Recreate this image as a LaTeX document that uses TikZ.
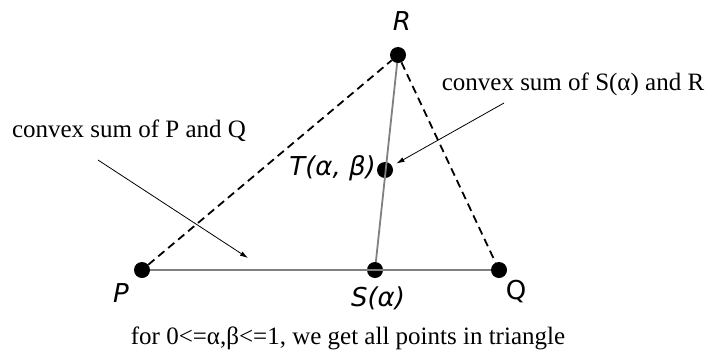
\documentclass[tikz,border=0pt]{standalone}
\usepackage{fontspec}
\setmainfont{Liberation Serif}
\newfontfamily\lblfont{DejaVu Sans}
\usetikzlibrary{arrows.meta}
\tikzset{
  pt/.style={circle,fill=black,minimum size=16pt,inner sep=0pt},
  lbl/.style={font=\lblfont\fontsize{26}{28}\selectfont\itshape,inner sep=0pt},
  txt/.style={font=\fontsize{25}{28}\selectfont,inner sep=0pt},
  side/.style={dashed,line width=1.8pt,dash pattern=on 8pt off 5pt},
  seg/.style={gray,line width=1.8pt},
  arr/.style={line width=0.8pt,-{Latex[length=8pt,width=5pt]}}
}
\begin{document}
\begin{tikzpicture}[x=1pt,y=-1pt]
\useasboundingbox (0,0) rectangle (709,357);
% points
\node[pt](P)at(142,270){};
\node[pt](Q)at(499,270){};
\node[pt](R)at(398,55){};
\node[pt](S)at(375,270){};
\node[pt](T)at(385,170){};
% sides
\draw[seg](P)--(Q);
\draw[seg](S)--(R);
\draw[side](P)--(R)--(Q);
% labels
\node[lbl](Rl)at(402,21){R};
\node[lbl](Pl)at(121,293){P};
\node[lbl,font=\lblfont\fontsize{26}{28}\selectfont](Ql)at(516,292){Q};
\node[lbl](Sl)at(378,298){S(α)};
\node[lbl,anchor=east](Tl)at(376,168){T(α, β)};
% notes
\node[txt](n1)at(129,131){convex sum of P and Q};
\node[txt](n2)at(573,84){convex sum of S(α) and R};
\node[txt](n3)at(348,338){for 0<=α,β<=1, we get all points in triangle};
\coordinate(a1)at(98,160);
\coordinate(b1)at(248,258);
\coordinate(a2)at(504,103);
\draw[arr](a1)--(b1);
\draw[arr,shorten >=5pt](a2)--(T);
\end{tikzpicture}
\end{document}
